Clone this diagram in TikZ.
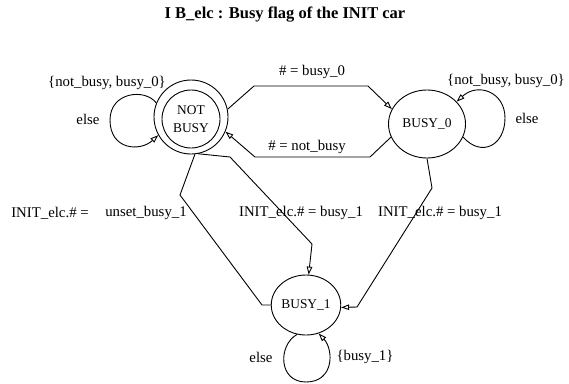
\documentclass[tikz,border=0pt]{standalone}
\usepackage{fontspec}
\setmainfont{Liberation Serif}
\usetikzlibrary{arrows.meta,shapes.geometric}
\begin{document}
\begin{tikzpicture}[x=1pt,y=-1pt,
  lbl/.style={font=\fontsize{14.8}{17}\selectfont, inner sep=0pt},
  st/.style={draw, line width=0.9pt, font=\fontsize{13.4}{18}\selectfont, inner sep=0pt},
  edge/.style={draw, line width=0.9pt},
  tip/.style={-{Triangle[open,length=8pt,width=5.5pt]}}
]
\useasboundingbox (0,0) rectangle (569,383);
\node[font=\bfseries\fontsize{16.5}{18}\selectfont] (title) at (285,15) {I B\_elc : Busy flag of the INIT car};
\node[st, circle, minimum size=74pt] (nbo) at (191,117) {};
\node[st, circle, minimum size=58pt, align=center] (nb) at (191,119) {NOT\\BUSY};
\node[st, ellipse, minimum width=77pt, minimum height=68pt] (b0) at (427,124) {BUSY\_0};
\node[st, ellipse, minimum width=62pt, minimum height=60pt] (b1) at (306,305) {BUSY\_1};
% NOT BUSY <-> BUSY_0
\draw[edge,tip] (nbo.12) -- (254,86) -- (368,86) -- (b0.157);
\draw[edge,tip] (b0.200) -- (370,157) -- (255,157) -- (nbo.-23);
\node[lbl] (l1) at (312,72) {\# = busy\_0};
\node[lbl] (l2) at (307,147) {\# = not\_busy};
% self loops
\draw[edge,tip] (nbo.158) .. controls (145,88) and (110,92) .. (110,120) .. controls (110,150) and (140,152) .. (nbo.209);
\node[lbl] (l3) at (107,83) {\{not\_busy, busy\_0\}};
\node[lbl] (l4) at (88,119) {else};
\draw[edge,tip] (b0.-20) .. controls (482,158) and (505,145) .. (505,118) .. controls (505,92) and (478,82) .. (b0.37);
\node[lbl] (l5) at (506,81) {\{not\_busy, busy\_0\}};
\node[lbl] (l6) at (527,118) {else};
\draw[edge,tip] (b1.253) .. controls (278,345) and (278,382) .. (306,382) .. controls (334,382) and (334,350) .. (b1.294);
\node[lbl] (l7) at (261,357) {else};
\node[lbl] (l8) at (365,357) {\{busy\_1\}};
% to BUSY_1
\draw[edge] (nbo.276) -- (180,195) -- (262,305) -- (b1.west);
\node[lbl] (l9) at (50,213) {INIT\_elc.\# =};
\node[lbl] (l10) at (146,213) {unset\_busy\_1};
\draw[edge,tip] (nbo.281) -- (230,157) -- (312,244) -- (b1.85);
\node[lbl] (l11) at (301,213) {INIT\_elc.\# = busy\_1};
\draw[edge,tip] (b0.south) -- (432,188) -- (357,307) -- (b1.-4);
\node[lbl] (l12) at (440,213) {INIT\_elc.\# = busy\_1};
\end{tikzpicture}
\end{document}
